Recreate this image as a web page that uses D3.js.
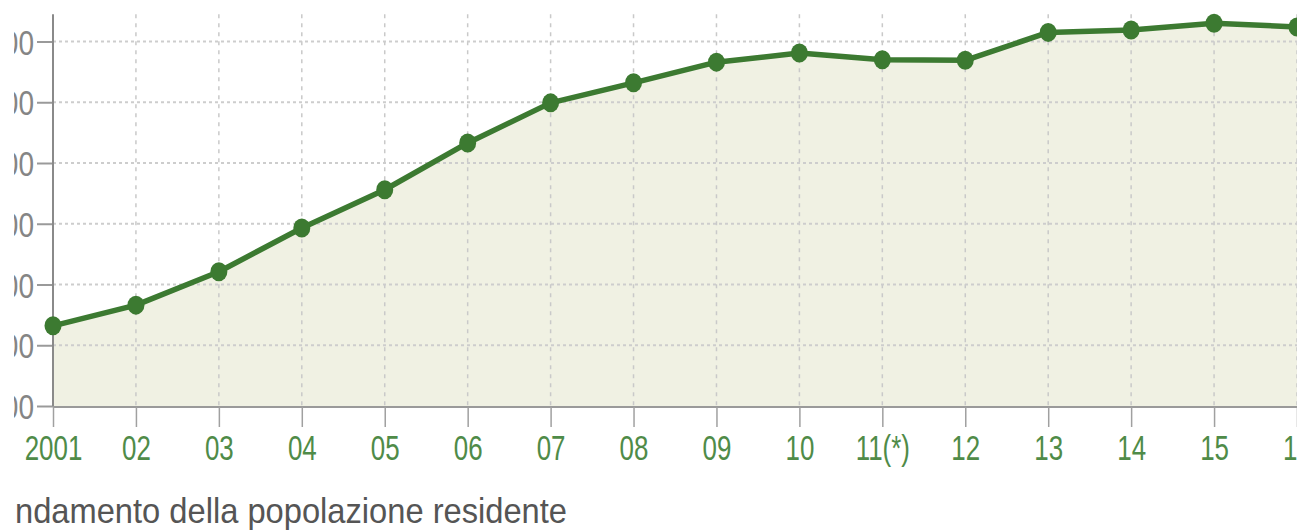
<!DOCTYPE html>
<html><head><meta charset="utf-8">
<script src="https://cdn.jsdelivr.net/npm/d3@7"></script>
<style>html,body{margin:0;padding:0;background:#fff;}svg{display:block;}</style>
</head><body>
<svg id="c" width="1297" height="531"></svg>
<script>
const years = [2001,2002,2003,2004,2005,2006,2007,2008,2009,2010,2011,2012,2013,2014,2015,2016];
const xLabels = ["2001","02","03","04","05","06","07","08","09","10","11(*)","12","13","14","15","16"];
const values = [1.32,1.66,2.21,2.93,3.56,4.33,4.99,5.32,5.66,5.81,5.70,5.69,6.15,6.19,6.30,6.24];
const yTicks = [0,1,2,3,4,5,6];
const yTickLabels = ["00","00","00","00","00","00","00"];
const title = "ndamento della popolazione residente";

const svg = d3.select("#c");
const x = d3.scalePoint().domain(years).range([53,1297]);
const y = d3.scaleLinear().domain([0,6]).range([406,41.5]);
const yTop = y(6.45), yBot = y(0);

svg.append("defs").append("clipPath").attr("id","lc")
  .append("rect").attr("x",14).attr("y",0).attr("width",1283).attr("height",531);

// area
svg.append("path").datum(values)
  .attr("fill","#f0f1e3")
  .attr("d", d3.area().x((d,i)=>x(years[i])).y0(yBot).y1(d=>y(d)));

// vertical grid
svg.append("g").selectAll("line").data(years.slice(1)).join("line")
  .attr("x1",d=>x(d)).attr("x2",d=>x(d)).attr("y1",yTop).attr("y2",yBot)
  .attr("stroke","#c9c9c9").attr("stroke-width",1.5).attr("stroke-dasharray","4,5");

// horizontal grid
svg.append("g").selectAll("line").data(yTicks.slice(1)).join("line")
  .attr("x1",x(years[0])).attr("x2",1297).attr("y1",d=>y(d)).attr("y2",d=>y(d))
  .attr("stroke","#cdcdcd").attr("stroke-width",2).attr("stroke-dasharray","3,3");

// y axis (labels clipped at the left like the reference)
const clipG = svg.append("g").attr("clip-path","url(#lc)");
const ya = clipG.append("g").attr("transform",`translate(${x(years[0])},0)`)
  .call(d3.axisLeft(y).tickValues(yTicks).tickSize(16).tickPadding(4).tickFormat((d,i)=>yTickLabels[i]));
ya.select(".domain").remove();
ya.selectAll(".tick line").attr("stroke","#9a9a9a").attr("stroke-width",2);
ya.selectAll(".tick text").attr("fill","#858585").attr("font-family","'Liberation Sans',Arial,sans-serif")
  .attr("font-size",35).attr("dy","0.36em")
  .attr("transform","scale(0.8,1)")
  .attr("x",-19/0.8);
svg.append("line").attr("x1",x(years[0])).attr("x2",x(years[0])).attr("y1",yTop).attr("y2",yBot)
  .attr("stroke","#8a8a8a").attr("stroke-width",2);

// x axis
const xa = svg.append("g").attr("transform",`translate(0,${yBot+1})`)
  .call(d3.axisBottom(x).tickSize(20).tickPadding(0).tickFormat((d,i)=>xLabels[i]));
xa.select(".domain").attr("stroke","#9a9a9a").attr("stroke-width",2).attr("d",`M${x(years[0])},0H1297`);
xa.selectAll(".tick line").attr("stroke","#a0a0a0").attr("stroke-width",1.5);
xa.selectAll(".tick text").attr("fill","#4f8b48").attr("font-family","'Liberation Sans',Arial,sans-serif")
  .attr("font-size",36).attr("y",0).attr("dy",0)
  .attr("transform","translate(0,53) scale(0.72,1)");

// line
svg.append("path").datum(values)
  .attr("fill","none").attr("stroke","#3c7a31").attr("stroke-width",5.5).attr("stroke-linejoin","round")
  .attr("d", d3.line().x((d,i)=>x(years[i])).y(d=>y(d)));

// points
svg.append("g").selectAll("ellipse").data(values).join("ellipse")
  .attr("cx",(d,i)=>x(years[i])).attr("cy",d=>y(d)).attr("rx",8.5).attr("ry",9.5)
  .attr("fill","#3c7a31");

// title
svg.append("text").attr("x",15).attr("y",523).text(title)
  .attr("fill","#555").attr("font-family","'Liberation Sans',Arial,sans-serif")
  .attr("font-size",35).attr("textLength",552).attr("lengthAdjust","spacingAndGlyphs");
</script>
</body></html>
